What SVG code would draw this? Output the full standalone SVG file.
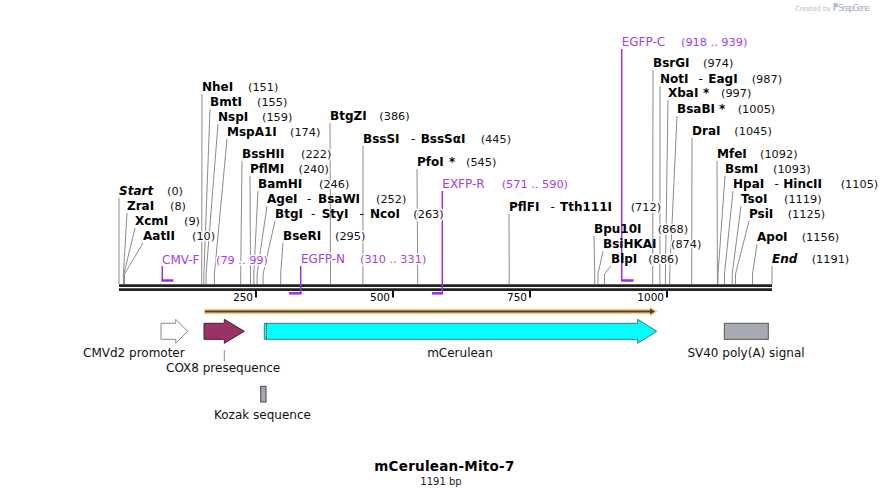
<svg xmlns="http://www.w3.org/2000/svg" width="892" height="497" viewBox="0 0 892 497">
<style>
text{font-family:"DejaVu Sans","Liberation Sans",sans-serif;fill:#000}
.n{font-size:12px;font-weight:bold}
.it{font-style:italic}
.p{font-size:11.3px;fill:#111;stroke:#fff;stroke-width:3;paint-order:stroke;stroke-linejoin:round}
.h{font-size:12px}
.pr{font-size:12px;fill:#a23ef0;stroke:#fff;stroke-width:3;paint-order:stroke;stroke-linejoin:round}
.prn{font-size:11.3px;fill:#a23ef0;stroke:#fff;stroke-width:3;paint-order:stroke;stroke-linejoin:round}
.tk{font-size:10.5px}
.fl{font-size:12px;fill:#111}
.lead{fill:none;stroke:#8c8c8c;stroke-width:1}
.pl{fill:none;stroke:#9a2ee6;stroke-width:1.5}
.pb{fill:none;stroke:#9a2ee6;stroke-width:2.5}
</style>
<rect width="892" height="497" fill="#fff"/>

<g id="watermark">
<text x="795" y="10.5" style="font-size:7px;fill:#c4c4c4" textLength="36">Created by</text>
<path d="M833.5,3 h2.5 a2.2,2.2 0 0 1 0,4.4 h-1 v3.6 h-1.5 z" fill="#a9bdd6"/>
<text x="838" y="11" style="font-size:9px;fill:#b0b6c0" textLength="32">SnapGene</text>
</g>

<g id="connectors">
<path class="lead" d="M119,198 V284"/>
<path class="lead" d="M127,213 L123.4,274 V284"/>
<path class="lead" d="M135,228 L123.9,274 V284"/>
<path class="lead" d="M143,243 L124.5,274 V284"/>
<path class="lead" d="M202,94 L201.7,274 V284"/>
<path class="lead" d="M210,109 L203.9,274 V284"/>
<path class="lead" d="M218,124 L206.1,274 V284"/>
<path class="lead" d="M227,139 L214.4,274 V284"/>
<path class="lead" d="M242,161 L240.7,274 V284"/>
<path class="lead" d="M250,176 L250.5,274 V284"/>
<path class="lead" d="M258,191 L253.8,274 V284"/>
<path class="lead" d="M267,206 L257.1,274 V284"/>
<path class="lead" d="M275,221 L263.1,274 V284"/>
<path class="lead" d="M283,243 L280.7,274 V284"/>
<path class="lead" d="M330,123 L330.5,274 V284"/>
<path class="lead" d="M363,146 L362.9,274 V284"/>
<path class="lead" d="M417,169 L417.7,274 V284"/>
<path class="lead" d="M509,214 L509.2,274 V284"/>
<path class="lead" d="M594,236 L594.7,274 V284"/>
<path class="lead" d="M603,251 L598,274 V284"/>
<path class="lead" d="M611,266 L604.5,274 V284"/>
<path class="lead" d="M653,70 L652.7,274 V284"/>
<path class="lead" d="M660,86 L659.9,274 V284"/>
<path class="lead" d="M668,100 L665.4,274 V284"/>
<path class="lead" d="M677,116 L669.7,274 V284"/>
<path class="lead" d="M692,138 L691.7,274 V284"/>
<path class="lead" d="M717,161 L717.4,274 V284"/>
<path class="lead" d="M725,176 L718,274 V284"/>
<path class="lead" d="M733,191 L724.5,274 V284"/>
<path class="lead" d="M741,206 L732.2,274 V284"/>
<path class="lead" d="M749,221 L735.5,274 V284"/>
<path class="lead" d="M757,244 L752.5,274 V284"/>
<path class="lead" d="M772,266 V284"/>
<path class="lead" d="M224.3,350 V361"/>
</g>

<g id="backbone">
<line x1="119" y1="285.6" x2="772" y2="285.6" stroke="#222" stroke-width="2.7"/>
<line x1="119" y1="289.6" x2="772" y2="289.6" stroke="#222" stroke-width="2.7"/>
<g stroke="#111" stroke-width="2">
<line x1="256" y1="290.5" x2="256" y2="297.5"/>
<line x1="393" y1="290.5" x2="393" y2="297.5"/>
<line x1="530" y1="290.5" x2="530" y2="297.5"/>
<line x1="667" y1="290.5" x2="667" y2="297.5"/>
</g>
<text class="tk" x="253" y="300.5" text-anchor="end">250</text>
<text class="tk" x="390" y="300.5" text-anchor="end">500</text>
<text class="tk" x="527" y="300.5" text-anchor="end">750</text>
<text class="tk" x="664" y="300.5" text-anchor="end">1000</text>
</g>

<g id="primer-CMV-F">
<path class="pl" d="M162.3,266 V281"/><path class="pb" d="M161.5,280.5 H173.3"/>
<text class="pr" x="162" y="264">CMV-F</text><text class="prn" x="216" y="264">(79 .. 99)</text>
</g>
<g id="primer-EGFP-N">
<path class="pl" d="M300.7,266 V294"/><path class="pb" d="M288.9,293.3 H301.5"/>
<text class="pr" x="301" y="263">EGFP-N</text><text class="prn" x="360" y="263">(310 .. 331)</text>
</g>
<g id="primer-EXFP-R">
<path class="pl" d="M442.3,191 V294"/><path class="pb" d="M432,293.3 H443"/>
<text class="pr" x="442.3" y="188">EXFP-R</text><text class="prn" x="501.7" y="188">(571 .. 590)</text>
</g>
<g id="primer-EGFP-C">
<path class="pl" d="M621.7,49 V281"/><path class="pb" d="M621,280.5 H633.6"/>
<text class="pr" x="621.7" y="46">EGFP-C</text><text class="prn" x="681" y="46">(918 .. 939)</text>
</g>

<g id="enz-Start"><text class="n it" x="119" y="195">Start</text><text class="p" x="167" y="195">(0)</text></g>
<g id="enz-ZraI"><text class="n" x="127" y="210">ZraI</text><text class="p" x="170" y="210">(8)</text></g>
<g id="enz-XcmI"><text class="n" x="135" y="225">XcmI</text><text class="p" x="184" y="225">(9)</text></g>
<g id="enz-AatII"><text class="n" x="143" y="240">AatII</text><text class="p" x="192" y="240">(10)</text></g>
<g id="enz-NheI"><text class="n" x="202" y="91">NheI</text><text class="p" x="248" y="91">(151)</text></g>
<g id="enz-BmtI"><text class="n" x="210" y="106">BmtI</text><text class="p" x="257" y="106">(155)</text></g>
<g id="enz-NspI"><text class="n" x="218" y="121">NspI</text><text class="p" x="262" y="121">(159)</text></g>
<g id="enz-MspA1I"><text class="n" x="227" y="136">MspA1I</text><text class="p" x="290" y="136">(174)</text></g>
<g id="enz-BssHII"><text class="n" x="242" y="158">BssHII</text><text class="p" x="301" y="158">(222)</text></g>
<g id="enz-PflMI"><text class="n" x="250" y="173">PflMI</text><text class="p" x="298.5" y="173">(240)</text></g>
<g id="enz-BamHI"><text class="n" x="258" y="188">BamHI</text><text class="p" x="319" y="188">(246)</text></g>
<g id="enz-AgeI"><text class="n" x="267" y="203">AgeI</text><text class="h" x="307" y="203">-</text><text class="n" x="318" y="203">BsaWI</text><text class="p" x="376" y="203">(252)</text></g>
<g id="enz-BtgI"><text class="n" x="275" y="218">BtgI</text><text class="h" x="311" y="218">-</text><text class="n" x="321.7" y="218">StyI</text><text class="h" x="359.5" y="218">-</text><text class="n" x="370" y="218">NcoI</text><text class="p" x="413.3" y="218">(263)</text></g>
<g id="enz-BseRI"><text class="n" x="283" y="240">BseRI</text><text class="p" x="335" y="240">(295)</text></g>
<g id="enz-BtgZI"><text class="n" x="330" y="120">BtgZI</text><text class="p" x="379.3" y="120">(386)</text></g>
<g id="enz-BssSI"><text class="n" x="363" y="143">BssSI</text><text class="h" x="411" y="143">-</text><text class="n" x="420.7" y="143">BssSαI</text><text class="p" x="480.7" y="143">(445)</text></g>
<g id="enz-PfoI"><text class="n" x="417" y="166">PfoI</text><text class="n" x="449" y="166">*</text><text class="p" x="466" y="166">(545)</text></g>
<g id="enz-PflFI"><text class="n" x="509" y="211">PflFI</text><text class="h" x="550.5" y="211">-</text><text class="n" x="560" y="211">Tth111I</text><text class="p" x="630.7" y="211">(712)</text></g>
<g id="enz-Bpu10I"><text class="n" x="594" y="233">Bpu10I</text><text class="p" x="657.7" y="233">(868)</text></g>
<g id="enz-BsiHKAI"><text class="n" x="603" y="248">BsiHKAI</text><text class="p" x="671" y="248">(874)</text></g>
<g id="enz-BlpI"><text class="n" x="611" y="263">BlpI</text><text class="p" x="648.3" y="263">(886)</text></g>
<g id="enz-BsrGI"><text class="n" x="653" y="67">BsrGI</text><text class="p" x="703" y="67">(974)</text></g>
<g id="enz-NotI"><text class="n" x="660" y="83">NotI</text><text class="h" x="698.5" y="83">-</text><text class="n" x="708.3" y="83">EagI</text><text class="p" x="751.7" y="83">(987)</text></g>
<g id="enz-XbaI"><text class="n" x="668" y="97">XbaI</text><text class="n" x="703" y="97">*</text><text class="p" x="721" y="97">(997)</text></g>
<g id="enz-BsaBI"><text class="n" x="677" y="113">BsaBI</text><text class="n" x="719" y="113">*</text><text class="p" x="737.7" y="113">(1005)</text></g>
<g id="enz-DraI"><text class="n" x="692" y="135">DraI</text><text class="p" x="734.3" y="135">(1045)</text></g>
<g id="enz-MfeI"><text class="n" x="717" y="158">MfeI</text><text class="p" x="760" y="158">(1092)</text></g>
<g id="enz-BsmI"><text class="n" x="725" y="173">BsmI</text><text class="p" x="773" y="173">(1093)</text></g>
<g id="enz-HpaI"><text class="n" x="733" y="188">HpaI</text><text class="h" x="774.5" y="188">-</text><text class="n" x="783.3" y="188">HincII</text><text class="p" x="840.7" y="188">(1105)</text></g>
<g id="enz-TsoI"><text class="n" x="741" y="203">TsoI</text><text class="p" x="784" y="203">(1119)</text></g>
<g id="enz-PsiI"><text class="n" x="749" y="218">PsiI</text><text class="p" x="787.7" y="218">(1125)</text></g>
<g id="enz-ApoI"><text class="n" x="757" y="241">ApoI</text><text class="p" x="801.7" y="241">(1156)</text></g>
<g id="enz-End"><text class="n it" x="772" y="263">End</text><text class="p" x="811.7" y="263">(1191)</text></g>

<g id="orf">
<path d="M204,308.8 H650 V306.8 L658,311.5 L650,316.2 V314.2 H204 Z" fill="#fbcb89"/>
<line x1="205" y1="311.5" x2="651" y2="311.5" stroke="#4a4036" stroke-width="1.8"/>
<path d="M650,308.6 L655,311.5 L650,314.4 Z" fill="#4a4036"/>
</g>

<g id="feat-CMVd2">
<path d="M161,323.3 H175.7 V319.3 L187.7,331.3 L175.7,343.3 V339.3 H161 Z" fill="#fff" stroke="#8a8a8a" stroke-width="1"/>
<text class="fl" x="83" y="357">CMVd2 promoter</text>
</g>
<g id="feat-COX8">
<path d="M204,323.3 H224.3 V319.3 L244.3,331.3 L224.3,343.3 V339.3 H204 Z" fill="#993366" stroke="#4d1a33" stroke-width="1"/>
<text class="fl" x="166" y="372">COX8 presequence</text>
</g>
<g id="feat-mCerulean">
<path d="M264.3,323.3 H637.7 V319.3 L656.7,331.3 L637.7,343.3 V339.3 H264.3 Z" fill="#00ffff" stroke="#3b7f80" stroke-width="1"/>
<line x1="266.5" y1="323.8" x2="266.5" y2="338.8" stroke="#222" stroke-width="1" stroke-dasharray="1,1"/>
<text class="fl" x="460" y="357" text-anchor="middle">mCerulean</text>
</g>
<g id="feat-Kozak">
<rect x="260.7" y="386.3" width="5.3" height="15.7" fill="#a6abb3" stroke="#444" stroke-width="1"/>
<text class="fl" x="214" y="419">Kozak sequence</text>
</g>
<g id="feat-SV40">
<rect x="724.3" y="323.3" width="44" height="16" fill="#a6abb3" stroke="#555" stroke-width="1"/>
<text class="fl" x="746" y="357" text-anchor="middle">SV40 poly(A) signal</text>
</g>

<g id="title">
<text x="444.3" y="471" text-anchor="middle" style="font-size:13.5px;font-weight:bold" textLength="140">mCerulean-Mito-7</text>
<text x="441" y="485" text-anchor="middle" style="font-size:10px;fill:#222">1191 bp</text>
</g>
</svg>
